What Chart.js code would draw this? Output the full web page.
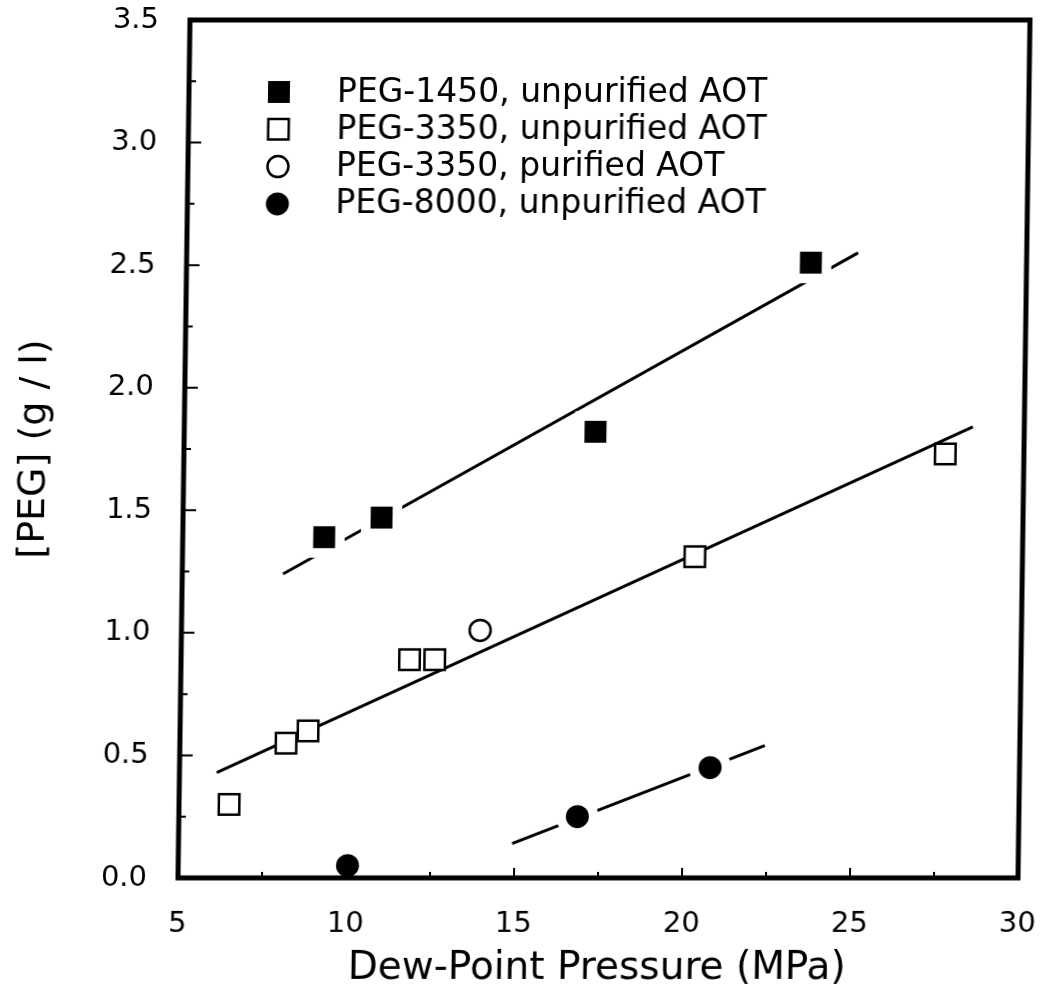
<!DOCTYPE html>
<html>
<head>
<meta charset="utf-8">
<title>PEG vs Dew-Point Pressure</title>
<script src="https://cdn.jsdelivr.net/npm/chart.js@4.4.1/dist/chart.umd.min.js"></script>
<style>
  html, body { margin: 0; padding: 0; background: #fff; overflow: hidden; }
  /* the scanned figure is slightly sheared, top leans right */
  #chart { display: block; transform: skewX(-0.8deg); transform-origin: 0 878px; }
</style>
</head>
<body>
<canvas id="chart" width="1042" height="993"></canvas>
<script>
// measured points
const peg1450X = [9.21, 10.91, 17.24, 23.58];
const peg1450Y = [1.39, 1.47, 1.82, 2.51];
const peg3350X = [6.49, 8.16, 8.81, 11.80, 12.55, 20.25, 27.66];
const peg3350Y = [0.30, 0.55, 0.60, 0.89, 0.89, 1.31, 1.73];
const peg3350PurX = [13.89];
const peg3350PurY = [1.01];
const peg8000X = [10.04, 16.86, 20.79];
const peg8000Y = [0.05, 0.25, 0.45];

// fitted lines (end points)
const fit1450X = [8.0, 24.98];
const fit1450Y = [1.24, 2.55];
const fit3350X = [6.11, 28.47];
const fit3350Y = [0.43, 1.84];
const fit8000X = [14.93, 22.41];
const fit8000Y = [0.14, 0.54];

// axes
const xTicks = [5, 10, 15, 20, 25, 30];
const xMinor = [7.5, 12.5, 17.5, 22.5, 27.5];
const yTicks = [0, 0.5, 1.0, 1.5, 2.0, 2.5, 3.0, 3.5];
const yMinor = [0.25, 0.75, 1.25, 1.75, 2.25, 2.75, 3.25];

const toPts = (xs, ys) => xs.map((x, i) => ({ x: x, y: ys[i] }));

Chart.defaults.font.family = 'DejaVu Sans';
Chart.defaults.color = '#000';

const fitLine = (xs, ys) => ({
    type: 'line',
    data: toPts(xs, ys),
    showLine: true,
    borderColor: '#000',
    borderWidth: 3,
    pointRadius: 0,
    fill: false,
    order: 3
});

// white copies under the marks, so the fit line breaks around them
const halo = (xs, ys, style, r) => ({
    data: toPts(xs, ys),
    pointStyle: style,
    pointRadius: r,
    pointHoverRadius: r,
    pointBackgroundColor: '#fff',
    pointBorderWidth: 0,
    order: 2
});

const boxPlugin = {
    id: 'box',
    afterDraw(chart) {
        const ctx = chart.ctx;
        const a = chart.chartArea;
        const xs = chart.scales.x, ys = chart.scales.y;
        ctx.save();
        ctx.strokeStyle = '#000';
        ctx.lineWidth = 2;
        ctx.beginPath();
        yTicks.forEach(v => {
            const py = ys.getPixelForValue(v);
            ctx.moveTo(a.left, py); ctx.lineTo(a.left + 13, py);
        });
        yMinor.forEach(v => {
            const py = ys.getPixelForValue(v);
            ctx.moveTo(a.left, py); ctx.lineTo(a.left + 7, py);
        });
        xTicks.forEach(v => {
            const px = xs.getPixelForValue(v);
            ctx.moveTo(px, a.bottom); ctx.lineTo(px, a.bottom - 10);
        });
        xMinor.forEach(v => {
            const px = xs.getPixelForValue(v);
            ctx.moveTo(px, a.bottom); ctx.lineTo(px, a.bottom - 6);
        });
        ctx.stroke();
        ctx.lineWidth = 5;
        ctx.lineJoin = 'miter';
        ctx.strokeRect(a.left, a.top, a.right - a.left, a.bottom - a.top);

        // legend inside the plot
        const items = chart.data.datasets.filter(d => d.legendText);
        ctx.font = '33px "DejaVu Sans"';
        ctx.textBaseline = 'middle';
        ctx.textAlign = 'left';
        items.forEach((d, i) => {
            const cy = 92 + i * 37.3;
            ctx.fillStyle = d.pointBackgroundColor;
            ctx.strokeStyle = '#000';
            ctx.lineWidth = d.pointBorderWidth;
            Chart.helpers.drawPoint(ctx, {
                pointStyle: d.pointStyle,
                radius: d.pointRadius,
                rotation: 0,
                borderWidth: d.pointBorderWidth
            }, 268, cy);
            ctx.fillStyle = '#000';
            ctx.fillText(d.legendText, 326, cy + 1);
        });
        ctx.restore();
    }
};

new Chart(document.getElementById('chart'), {
    type: 'scatter',
    data: {
        datasets: [
            fitLine(fit1450X, fit1450Y),
            fitLine(fit3350X, fit3350Y),
            fitLine(fit8000X, fit8000Y),
            halo(peg1450X, peg1450Y, 'rect', 29),
            halo(peg8000X, peg8000Y, 'circle', 21),
            {
                legendText: 'PEG-1450, unpurified AOT',
                data: toPts(peg1450X, peg1450Y),
                pointStyle: 'rect',
                pointRadius: 15.5,
                pointBackgroundColor: '#000',
                pointBorderColor: '#000',
                pointBorderWidth: 0,
                order: 1
            },
            {
                legendText: 'PEG-3350, unpurified AOT',
                data: toPts(peg3350X, peg3350Y),
                pointStyle: 'rect',
                pointRadius: 14.5,
                pointBackgroundColor: '#fff',
                pointBorderColor: '#000',
                pointBorderWidth: 2.5,
                order: 1
            },
            {
                legendText: 'PEG-3350, purified AOT',
                data: toPts(peg3350PurX, peg3350PurY),
                pointStyle: 'circle',
                pointRadius: 10.5,
                pointBackgroundColor: '#fff',
                pointBorderColor: '#000',
                pointBorderWidth: 2.5,
                order: 1
            },
            {
                legendText: 'PEG-8000, unpurified AOT',
                data: toPts(peg8000X, peg8000Y),
                pointStyle: 'circle',
                pointRadius: 11.5,
                pointBackgroundColor: '#000',
                pointBorderColor: '#000',
                pointBorderWidth: 0,
                order: 1
            }
        ]
    },
    options: {
        responsive: false,
        animation: false,
        layout: { autoPadding: false, padding: { top: 20, right: 24, left: 0, bottom: 0 } },
        scales: {
            x: {
                type: 'linear',
                min: 5,
                max: 30,
                grid: { display: false },
                border: { display: false },
                afterBuildTicks: (scale) => { scale.ticks = xTicks.map(v => ({ value: v })); },
                afterFit: (scale) => {
                    scale.height = 115;
                    scale.paddingLeft = 0;
                    scale.paddingRight = 0;
                },
                ticks: {
                    font: { size: 29 },
                    padding: 21,
                    maxRotation: 0,
                    autoSkip: false
                },
                title: {
                    display: true,
                    text: 'Dew-Point Pressure (MPa)',
                    font: { size: 39 },
                    padding: { top: 0, bottom: 1 }
                }
            },
            y: {
                type: 'linear',
                min: 0,
                max: 3.5,
                grid: { display: false },
                border: { display: false },
                afterBuildTicks: (scale) => { scale.ticks = yTicks.map(v => ({ value: v })); },
                afterFit: (scale) => {
                    scale.width = 178;
                    scale.paddingTop = 0;
                    scale.paddingBottom = 0;
                },
                ticks: {
                    font: { size: 29 },
                    padding: 23,
                    autoSkip: false,
                    callback: (v) => Number(v).toFixed(1)
                },
                title: {
                    display: true,
                    text: '[PEG] (g / l)',
                    font: { size: 38 },
                    padding: { top: 6, bottom: 0 }
                }
            }
        },
        plugins: {
            legend: { display: false },
            tooltip: { enabled: false }
        }
    },
    plugins: [boxPlugin]
});
</script>
</body>
</html>
